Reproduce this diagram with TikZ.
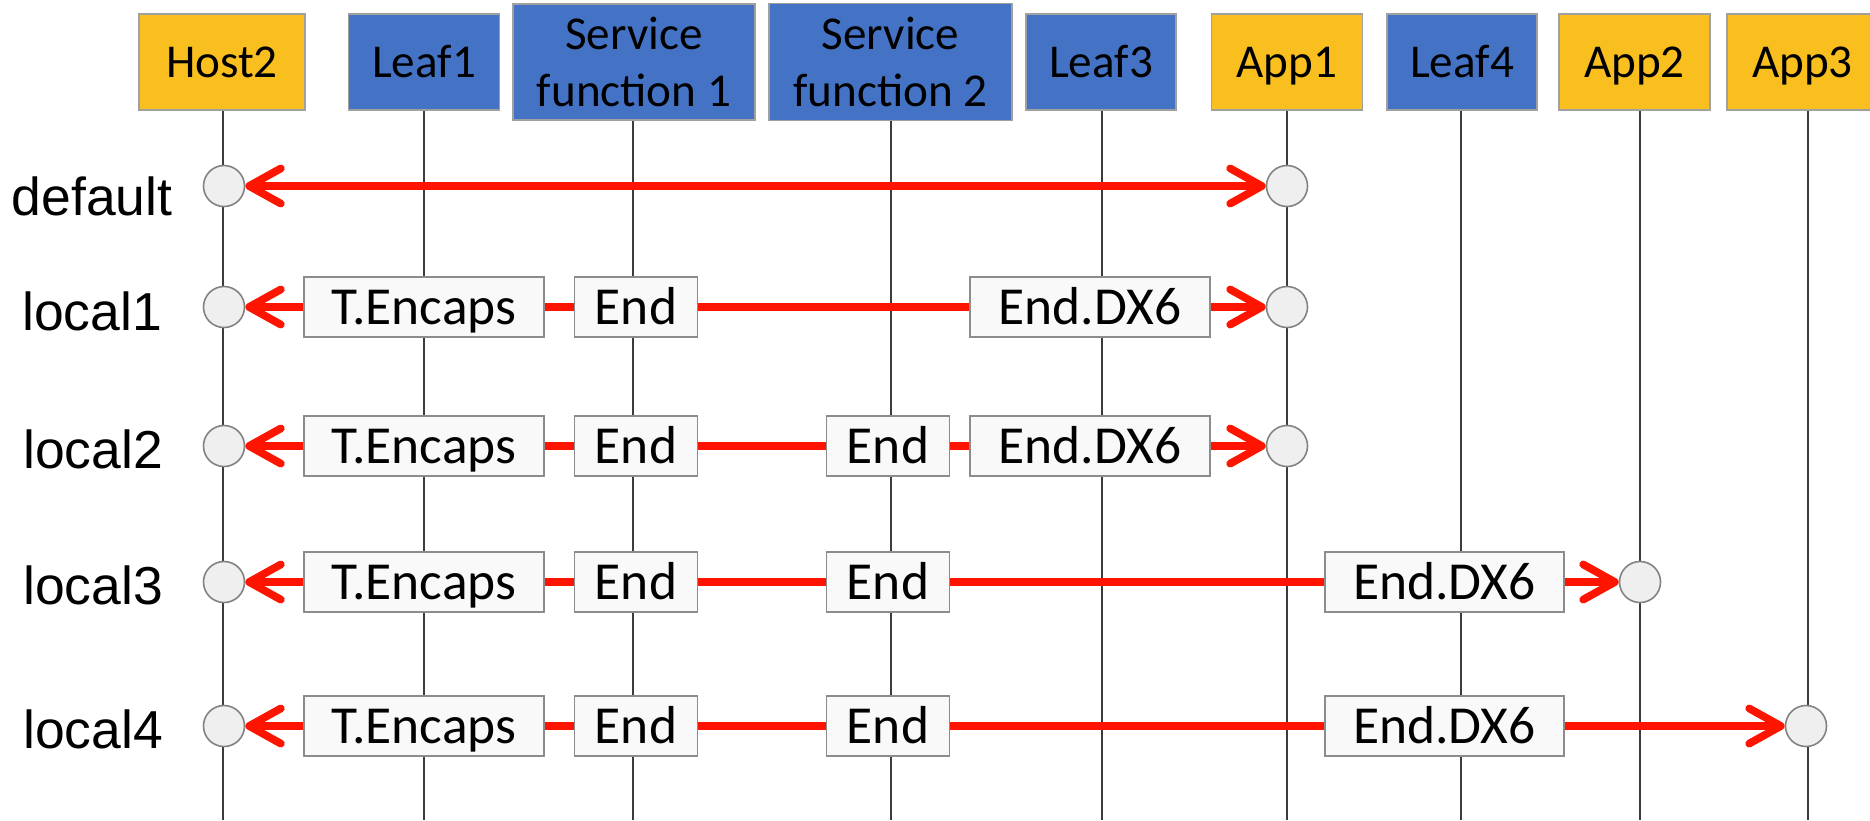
\documentclass[tikz,border=0pt]{standalone}
\usepackage{fontspec}
\setmainfont{Carlito}
\newfontfamily\rowfont{Liberation Sans}
\usetikzlibrary{arrows.meta}
\definecolor{hdryellow}{RGB}{249,191,30}
\definecolor{hdrblue}{RGB}{68,114,196}
\definecolor{hdrborder}{RGB}{160,160,160}
\definecolor{arrred}{RGB}{255,20,0}
\definecolor{boxgray}{RGB}{140,140,140}
\definecolor{boxfill}{RGB}{249,249,249}
\definecolor{circfill}{RGB}{239,239,239}
\definecolor{circline}{RGB}{130,130,130}
\definecolor{lifegray}{RGB}{60,60,60}
\pgfdeclarelayer{back}
\pgfdeclarelayer{bg}
\pgfdeclarelayer{mid}
\pgfsetlayers{back,bg,mid,main}
\begin{document}
\begin{tikzpicture}[x=0.01cm,y=-0.01cm,
  hdr/.style={draw=hdrborder, line width=0.45pt, inner sep=0pt, minimum height=0.96cm,
    font=\fontsize{13.4}{16.4}\selectfont, align=center},
  hdry/.style={hdr, fill=hdryellow},
  hdrb/.style={hdr, fill=hdrblue},
  one/.style={text height=8.6pt, text depth=0pt},
  life/.style={draw=lifegray, line width=0.4pt},
  circ/.style={circle, draw=circline, fill=circfill, line width=0.45pt, minimum size=0.41cm, inner sep=0pt},
  lbl/.style={draw=boxgray, fill=boxfill, line width=0.45pt, inner sep=0pt, minimum height=0.60cm,
    font=\fontsize{15.2}{18}\selectfont, text height=9.8pt, text depth=0pt},
  flow/.style={draw=arrred, line width=2.2pt, {Straight Barb[length=9pt,width=10pt,round]}-{Straight Barb[length=9pt,width=10pt,round]}},
  rowlbl/.style={font=\rowfont\fontsize{15.2}{18}\selectfont, anchor=base}
]
\clip (0,0) rectangle (1870,820);
\begin{pgfonlayer}{back}
\fill[white] (0,0) rectangle (1870,820);
\end{pgfonlayer}

% header boxes
\node[hdry, one, minimum width=1.66cm] (host2) at (222,62) {Host2};
\node[hdrb, one, minimum width=1.51cm] (leaf1) at (424,62) {Leaf1};
\node[hdrb, minimum width=2.42cm, minimum height=1.16cm] (sf1) at (634,62) {Service\\function 1};
\node[hdrb, minimum width=2.43cm, minimum height=1.17cm] (sf2) at (890.5,62) {Service\\function 2};
\node[hdrb, one, minimum width=1.50cm] (leaf3) at (1101,62) {Leaf3};
\node[hdry, one, minimum width=1.51cm] (app1) at (1287,62) {App1};
\node[hdrb, one, minimum width=1.50cm] (leaf4) at (1462,62) {Leaf4};
\node[hdry, one, minimum width=1.51cm] (app2) at (1634.5,62) {App2};
\node[hdry, one, minimum width=1.51cm] (app3) at (1802.5,62) {App3};

% lifeline ends
\coordinate (e-host2) at (223,820);
\coordinate (e-leaf1) at (424,820);
\coordinate (e-sf1) at (633,820);
\coordinate (e-sf2) at (891,820);
\coordinate (e-leaf3) at (1102,820);
\coordinate (e-app1) at (1287,820);
\coordinate (e-leaf4) at (1461,820);
\coordinate (e-app2) at (1640,820);
\coordinate (e-app3) at (1808,820);

\begin{pgfonlayer}{bg}
\foreach \n in {host2,leaf1,sf1,sf2,leaf3,app1,leaf4,app2,app3}
  \draw[life] (\n.south -| e-\n) -- (e-\n);
\end{pgfonlayer}

% row labels
\node[rowlbl] (rdef) at (92,215) {default};
\node[rowlbl] (rl1) at (92,330) {local1};
\node[rowlbl] (rl2) at (93,468) {local2};
\node[rowlbl] (rl3) at (93,604) {local3};
\node[rowlbl] (rl4) at (93,748) {local4};

% circles
\node[circ] (c0s) at (224,186) {};
\node[circ] (c0t) at (1287,186) {};
\node[circ] (c1s) at (224,307) {};
\node[circ] (c1t) at (1287,307) {};
\node[circ] (c2s) at (224,446) {};
\node[circ] (c2t) at (1287,446) {};
\node[circ] (c3s) at (224,582) {};
\node[circ] (c3t) at (1640,582) {};
\node[circ] (c4s) at (224,726) {};
\node[circ] (c4t) at (1806,726) {};

% label boxes
\node[lbl, minimum width=2.40cm] (l1a) at (424,307) {T.Encaps};
\node[lbl, minimum width=1.23cm] (l1b) at (636,307) {End};
\node[lbl, minimum width=2.40cm] (l1c) at (1090,307) {End.DX6};

\node[lbl, minimum width=2.40cm] (l2a) at (424,446) {T.Encaps};
\node[lbl, minimum width=1.23cm] (l2b) at (636,446) {End};
\node[lbl, minimum width=1.23cm] (l2c) at (888,446) {End};
\node[lbl, minimum width=2.40cm] (l2d) at (1090,446) {End.DX6};

\node[lbl, minimum width=2.40cm] (l3a) at (424,582) {T.Encaps};
\node[lbl, minimum width=1.23cm] (l3b) at (636,582) {End};
\node[lbl, minimum width=1.23cm] (l3c) at (888,582) {End};
\node[lbl, minimum width=2.39cm] (l3d) at (1444.5,582) {End.DX6};

\node[lbl, minimum width=2.40cm] (l4a) at (424,726) {T.Encaps};
\node[lbl, minimum width=1.23cm] (l4b) at (636,726) {End};
\node[lbl, minimum width=1.23cm] (l4c) at (888,726) {End};
\node[lbl, minimum width=2.39cm] (l4d) at (1444.5,726) {End.DX6};

\begin{pgfonlayer}{mid}
\draw[flow] (c0s) -- (c0t);
\draw[flow] (c1s) -- (c1t);
\draw[flow] (c2s) -- (c2t);
\draw[flow] (c3s) -- (c3t);
\draw[flow] (c4s) -- (c4t);
\end{pgfonlayer}
\end{tikzpicture}
\end{document}
